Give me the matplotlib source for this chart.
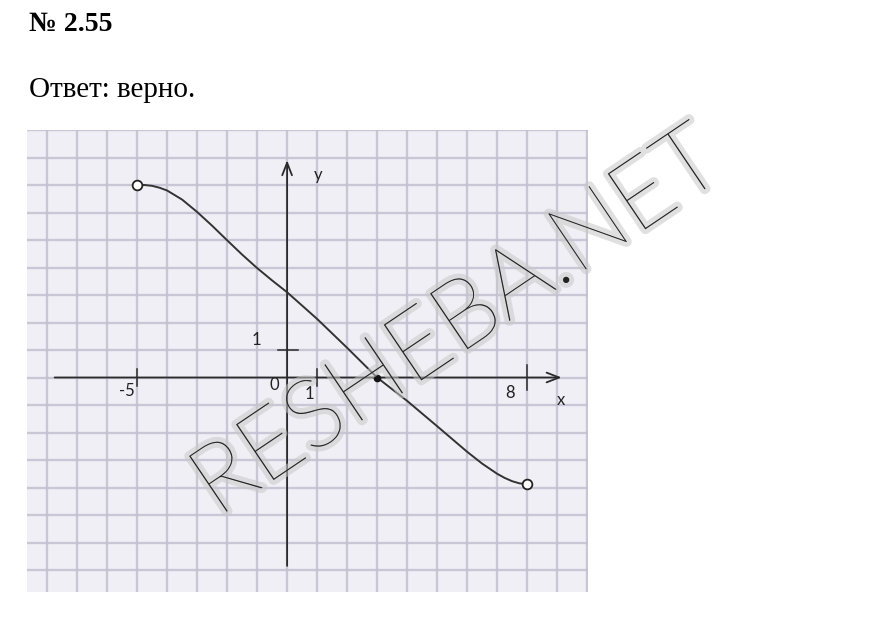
import numpy as np
import matplotlib
matplotlib.use('Agg')
import matplotlib.pyplot as plt
import matplotlib.patheffects as pe

# curve (1 cell = 1 unit)
xs = [-5, -4.75, -4.5, -4.25, -4, -3.5, -3, -2.5, -2, -1.5, -1, -0.5, 0,
      1, 2, 3, 4, 5, 6, 6.5, 7, 7.25, 7.5, 7.75, 8]
ys = [7.0, 7.0, 6.97, 6.9, 6.8, 6.47, 6.02, 5.52, 4.99, 4.47, 3.98, 3.53,
      3.1, 2.13, 1.08, 0.0, -0.85, -1.77, -2.7, -3.13, -3.5, -3.65, -3.77,
      -3.85, -3.88]

open_pts_x = [-5, 8]
open_pts_y = [7.0, -3.88]
zero_x = [3]
zero_y = [0]

xtick_vals = [-5, 1, 8]
ytick_vals = [1]

PAPER = '#f0eff5'
GRID = '#c3bfd0'
INK = '#2a2a2a'

fig = plt.figure(figsize=(8.92, 6.30), dpi=100)
fig.patch.set_facecolor('white')

# header text
fig.text(29 / 892, 1 - 31 / 630, '№ 2.55', family='Liberation Serif',
         fontweight='bold', fontsize=20, va='baseline', ha='left')
fig.text(29 / 892, 1 - 97 / 630, 'Ответ: верно.', family='Liberation Serif',
         fontsize=21, va='baseline', ha='left')

# grid paper
ax = fig.add_axes([27 / 892, 38 / 630, 561 / 892, 462 / 630])
ax.set_facecolor(PAPER)
ax.set_xlim(-8.67, 10.03)
ax.set_ylim(-7.8, 9.0)
for s in ax.spines.values():
    s.set_visible(False)
ax.set_xticks(np.arange(-8, 11))
ax.set_yticks(np.arange(-7, 10))
ax.tick_params(length=0, labelbottom=False, labelleft=False)
ax.grid(True, color=GRID, lw=1.7, alpha=0.85)
ax.set_axisbelow(True)

# axes with arrows
ax.annotate('', xy=(9.15, 0), xytext=(-7.75, 0),
            arrowprops=dict(arrowstyle='->,head_length=0.9,head_width=0.35',
                            color=INK, lw=1.3, shrinkA=0, shrinkB=0))
ax.annotate('', xy=(0, 7.9), xytext=(0, -6.85),
            arrowprops=dict(arrowstyle='->,head_length=0.9,head_width=0.35',
                            color=INK, lw=1.3, shrinkA=0, shrinkB=0))

# tick marks
for xt in xtick_vals:
    h = 0.45 if xt == 8 else 0.32
    ax.plot([xt, xt], [-h, h], color=INK, lw=1.1)
for yt in ytick_vals:
    ax.plot([-0.3, 0.35], [yt, yt], color=INK, lw=1.1)

lab = dict(family='Lato', fontsize=12, color='#222222', ha='center', va='center')
ax.text(-5.33, -0.5, '-5', **lab)
ax.text(-0.43, -0.28, '0', **lab)
ax.text(0.73, -0.6, '1', **lab)
ax.text(-1.03, 1.36, '1', **lab)
ax.text(7.43, -0.55, '8', **lab)
ax.text(1.03, 7.36, 'y', **lab)
ax.text(9.13, -0.82, 'x', **lab)

# the function graph
ax.plot(xs, ys, color='#333333', lw=1.4, zorder=4)
ax.plot(open_pts_x, open_pts_y, 'o', ms=7, mfc='white', mec='#222222',
        mew=1.3, zorder=5)
ax.plot(zero_x, zero_y, 'o', ms=4.5, color='#111111', zorder=5)

# watermark
fig.text(458 / 892, 1 - 324 / 630, 'RESHEBA.NET', family='Lato',
         fontweight=100, fontsize=69, color='#222222', rotation=34,
         ha='center', va='center', rotation_mode='anchor',
         path_effects=[pe.Stroke(linewidth=7, foreground='#c8c8c8', alpha=0.55),
                       pe.Normal()])

fig.savefig('out.png', dpi=100)
plt.close(fig)
